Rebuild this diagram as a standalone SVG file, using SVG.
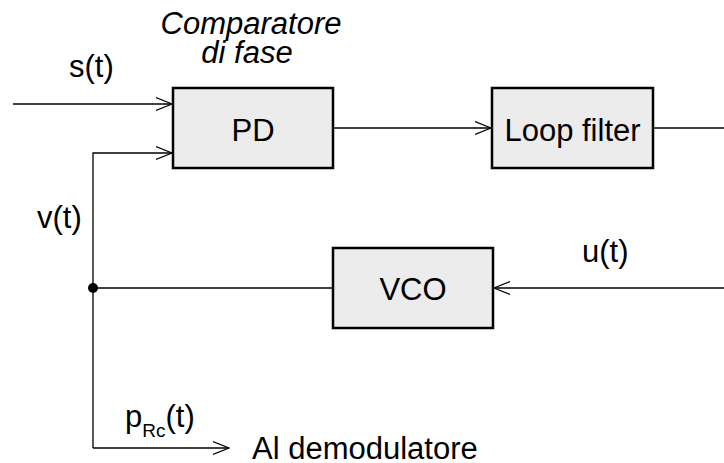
<svg xmlns="http://www.w3.org/2000/svg" width="724" height="463" viewBox="0 0 724 463">
<defs>
<marker id="arr" markerWidth="17" markerHeight="16" refX="16" refY="8" orient="auto" markerUnits="userSpaceOnUse">
<path d="M0,1.5 L16,8 L0,14.5" fill="none" stroke="#000" stroke-width="1.2"/>
</marker>
</defs>
<style>
.box{fill:#ececec;stroke:#000;stroke-width:2.5}
.t{font-family:"Liberation Sans",Arial,sans-serif;font-size:31px;fill:#000}
.i{font-style:italic}
.ln{fill:none;stroke:#000;stroke-width:1.3}
</style>
<rect width="724" height="463" fill="#fff"/>
<g id="connectors">
<path class="ln" d="M13,104 H172" marker-end="url(#arr)"/>
<path class="ln" d="M93,448 V153 H172" marker-end="url(#arr)"/>
<path class="ln" d="M334,128 H491" marker-end="url(#arr)"/>
<path class="ln" d="M654,128 H724"/>
<path class="ln" d="M724,288 H494" marker-end="url(#arr)"/>
<path class="ln" d="M332,288 H93"/>
<path class="ln" d="M93,448 H229" marker-end="url(#arr)"/>
<circle cx="93" cy="288" r="5" fill="#000"/>
</g>
<g id="pd">
<rect class="box" x="173" y="88" width="160" height="80"/>
<text class="t" x="253" y="141" text-anchor="middle">PD</text>
</g>
<g id="loopfilter">
<rect class="box" x="492" y="88" width="161" height="80"/>
<text class="t" x="572.5" y="141" text-anchor="middle">Loop filter</text>
</g>
<g id="vco">
<rect class="box" x="333" y="248" width="160" height="80"/>
<text class="t" x="413" y="300" text-anchor="middle">VCO</text>
</g>
<g id="labels">
<text class="t i" x="251" y="34" text-anchor="middle">Comparatore</text>
<text class="t i" x="247" y="63" text-anchor="middle">di fase</text>
<text class="t" x="69" y="77">s(t)</text>
<text class="t" x="37" y="228">v(t)</text>
<text class="t" x="582" y="262">u(t)</text>
<text class="t" x="125" y="427">p<tspan font-size="19" dy="10">Rc</tspan><tspan dy="-10">(t)</tspan></text>
<text class="t" x="252" y="459">Al demodulatore</text>
</g>
</svg>
